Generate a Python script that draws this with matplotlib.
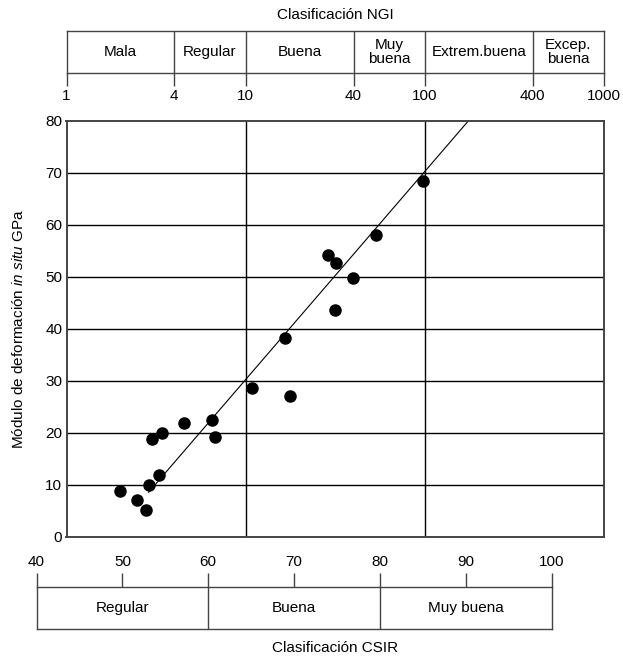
import numpy as np
import matplotlib
matplotlib.use("Agg")
import matplotlib.pyplot as plt

plt.rcParams['font.family'] = ['Liberation Sans', 'DejaVu Sans']
plt.rcParams['mathtext.fontset'] = 'custom'
plt.rcParams['mathtext.rm'] = 'Liberation Sans'
plt.rcParams['mathtext.it'] = 'Liberation Sans:italic'

# ---- data ----
rmr = [50.2, 52.1, 53.2, 53.6, 54.7, 53.9, 55.1, 57.6, 60.8, 61.2,
       65.4, 69.3, 69.8, 74.3, 75.2, 75.0, 77.1, 79.8, 85.2]
em = [8.8, 7.2, 5.1, 9.9, 12.0, 18.8, 19.9, 22.0, 22.4, 19.3,
      28.6, 38.3, 27.1, 54.1, 52.7, 43.6, 49.8, 58.0, 68.4]
fit_x = [53.5, 90.5]
fit_y = [8.6, 80.0]

y_ticks = [0, 10, 20, 30, 40, 50, 60, 70, 80]

ngi_ticks = [1, 4, 10, 40, 100, 400, 1000]
ngi_cats = ['Mala', 'Regular', 'Buena', 'Muy\nbuena', 'Extrem.buena', 'Excep.\nbuena']
ngi_grid = [10, 100]

csir_major = [40, 60, 80, 100]
csir_minor = [50, 70, 90]
csir_cats = ['Regular', 'Buena', 'Muy buena']

W, H = 623, 661
fig = plt.figure(figsize=(W / 100, H / 100), dpi=100)

def fr(x0, y0, x1, y1):
    return [x0 / W, 1 - y1 / H, (x1 - x0) / W, (y1 - y0) / H]

edge = '#444444'
fs = 11

# mapping NGI Q -> RMR
def q2rmr(q):
    return 9 * np.log(np.asarray(q, dtype=float)) + 44

# ---- main axes ----
ax = fig.add_axes(fr(66.5, 120.7, 604, 537))
ax.set_xlim(q2rmr(1), q2rmr(1000))
ax.set_ylim(0, 80)
for yv in y_ticks[1:-1]:
    ax.axhline(yv, color='black', lw=1.0, zorder=1)
for qv in ngi_grid:
    ax.axvline(q2rmr(qv), color='black', lw=1.0, zorder=1)
ax.plot(fit_x, fit_y, color='black', lw=0.8, zorder=2)
ax.plot(rmr, em, 'o', color='black', ms=8, zorder=3)
ax.set_xticks([])
ax.set_yticks(y_ticks)
ax.tick_params(axis='y', length=0, pad=3, labelsize=fs)
for s in ax.spines.values():
    s.set_color(edge)
    s.set_linewidth(1.4)

fig.text(19 / W, 1 - 329 / H, 'Módulo de deformación $\\mathit{in\\ situ}$ GPa',
         rotation=90, ha='center', va='center', fontsize=fs)

# ---- NGI axes (top) ----
axn = fig.add_axes(fr(66.5, 30.7, 604, 72.7))
axn.set_xscale('log')
axn.set_xlim(ngi_ticks[0], ngi_ticks[-1])
axn.set_ylim(0, 1)
axn.set_yticks([])
axn.set_xticks(ngi_ticks)
axn.set_xticklabels([str(t) for t in ngi_ticks])
axn.xaxis.set_minor_locator(matplotlib.ticker.NullLocator())
axn.tick_params(axis='x', direction='out', length=9, width=1, pad=3,
                labelsize=fs, color=edge)
for b in ngi_ticks[1:-1]:
    axn.axvline(b, color=edge, lw=1)
for i, lab in enumerate(ngi_cats):
    xc = np.sqrt(ngi_ticks[i] * ngi_ticks[i + 1])
    axn.text(xc, 0.5, lab, ha='center', va='center', fontsize=fs,
             linespacing=1.0)
for s in axn.spines.values():
    s.set_color(edge)
    s.set_linewidth(1)
fig.text(335 / W, 1 - 15 / H, 'Clasificación NGI', ha='center', va='center', fontsize=fs)

# ---- CSIR axes (bottom) ----
axc = fig.add_axes(fr(36.5, 587, 551.7, 629))
axc.set_xlim(csir_major[0], csir_major[-1])
axc.set_ylim(0, 1)
axc.set_yticks([])
axc.set_xticks(csir_major)
axc.set_xticks(csir_minor, minor=True)
axc.set_xticklabels([str(t) for t in csir_major])
axc.set_xticklabels([str(t) for t in csir_minor], minor=True)
axc.tick_params(axis='x', which='both', direction='out', length=10, width=1,
                pad=3, labelsize=fs, color=edge, top=True, bottom=False,
                labeltop=True, labelbottom=False)
for b in csir_major[1:-1]:
    axc.axvline(b, color=edge, lw=1)
for i, lab in enumerate(csir_cats):
    xc = (csir_major[i] + csir_major[i + 1]) / 2
    axc.text(xc, 0.5, lab, ha='center', va='center', fontsize=fs)
for s in axc.spines.values():
    s.set_color(edge)
    s.set_linewidth(1)
fig.text(335 / W, 1 - 648 / H, 'Clasificación CSIR', ha='center', va='center', fontsize=fs)

fig.savefig('out.png', dpi=100)
